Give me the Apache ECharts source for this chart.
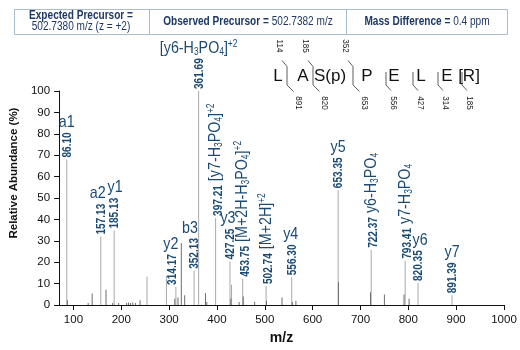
<!DOCTYPE html>
<html>
<head>
<meta charset="utf-8">
<script src="https://cdn.jsdelivr.net/npm/echarts@6/dist/echarts.min.js"></script>
<style>
html, body { margin: 0; padding: 0; background: #fff; }
#chart { width: 520px; height: 350px; }
</style>
</head>
<body>
<div id="chart"></div>
<script>
var FONT = '"Liberation Sans", Arial, sans-serif';
var BLUE = '#1a4a74';
var NAVY = '#1d3866';
var LINE_BOX = '#a9bdcd';
var SQ = 0.84; // horizontal squeeze to mimic the condensed face

// axis ticks
var xTicks = [100, 200, 300, 400, 500, 600, 700, 800, 900, 1000];

// tall peaks (light grey)
var peakMz = [86.10, 157.13, 185.13, 253.8, 294.4, 314.17, 352.13, 361.69, 397.21, 427.25, 430.5, 453.75, 502.74, 556.30, 653.35, 722.37, 793.41, 820.35, 891.39];
var peakInt = [68, 32, 34.8, 13.3, 13.6, 8.5, 16, 100, 40.7, 20.4, 9.5, 12.3, 8.9, 13, 53.7, 25.8, 20.7, 10.3, 4.6];

// small peaks (dark grey)
var minorMz = [87.4, 130.8, 139.1, 168.1, 182.0, 194.4, 211.0, 215.0, 219.0, 224.0, 229.6, 239.3, 311.8, 318.6, 325.5, 332.5, 376.0, 378.7, 429.0, 446.4, 455.0, 478.7, 503.5, 536.0, 557.5, 565.0, 654.0, 721.0, 750.0, 791.0, 801.6];
var minorInt = [2.3, 1.0, 5.4, 7.2, 1.0, 1.0, 1.0, 1.2, 1.0, 1.2, 1.0, 2.3, 3.0, 3.5, 29, 4.6, 5.7, 1.5, 3, 1.5, 4, 1.5, 2, 3.5, 1.5, 2, 10.7, 6, 5, 5, 3];

// annotated peaks
var labMz = [86.10, 157.13, 185.13, 314.17, 352.13, 361.69, 397.21, 427.25, 453.75, 502.74, 556.30, 653.35, 722.37, 793.41, 820.35, 891.39];
var ionName = ['a1', 'a2', 'y1', 'y2', 'b3', '[y6-H3PO4]+2', '[y7-H3PO4]+2', 'y3', '[M+2H-H3PO4]+2', '[M+2H]+2', 'y4', 'y5', 'y6-H3PO4', 'y7-H3PO4', 'y6', 'y7'];
var ionInline = [0, 0, 0, 0, 0, 0, 1, 0, 1, 1, 0, 0, 1, 1, 0, 0];
var nameDx = [0, -3, 1, -5, -4, 0, 0, -2, 0, 0, -1, 0, 0, 0, 2, 0];
var numDx = [0, 0, 0, -4, 0, 0, 0, 0, 0, 0, 0, 0, 0, 0, 0, 0];

// peptide sequence with b / y fragment numbers
var residues = ['L', 'A', 'S(p)', 'P', 'E', 'L', 'E', '[R]'];
var bIons = ['114', '185', '352', '', '', '', ''];
var yIons = ['891', '820', '653', '556', '427', '314', '185'];
var residueX = [278, 303, 330, 367, 394, 421, 447, 469];
var cutX = [287, 313, 353, 386, 413, 438, 462];

var myChart = echarts.init(document.getElementById('chart'));

var ctx = document.createElement('canvas').getContext('2d');
ctx.font = 'bold 12px ' + FONT;
function numWidth(s) { return ctx.measureText(s).width; }

// H3PO4 -> subscripts, +2 -> superscript
function richName(s) {
	return s.replace('H3', 'H{sb|3}').replace('O4', 'O{sb|4}').replace(/\+2$/, '{sp|+2}');
}

var richStyles = {
	n: { fontSize: 12, fontWeight: 'bold', fontFamily: FONT, fill: BLUE, lineHeight: 14, verticalAlign: 'bottom' },
	sb: { fontSize: 10, fontFamily: FONT, fill: BLUE, lineHeight: 10, verticalAlign: 'bottom' },
	sp: { fontSize: 10, fontFamily: FONT, fill: BLUE, lineHeight: 10, verticalAlign: 'top' }
};

function peakHeight(m) { return peakInt[peakMz.indexOf(m)]; }

function renderLabel(params, api) {
	var i = api.value(2);
	var p = api.coord([api.value(0), api.value(1)]);
	var txt = labMz[i].toFixed(2);
	var y = p[1] - 2;
	var kids = [{
		type: 'text', x: p[0] + numDx[i], y: y, rotation: Math.PI / 2, scaleX: SQ,
		style: {
			text: ionInline[i] ? '{n|' + txt + '} ' + richName(ionName[i]) : '{n|' + txt + '}',
			fontSize: 17, fontFamily: FONT, fill: BLUE, lineHeight: 18,
			align: 'left', verticalAlign: 'middle', rich: richStyles
		}
	}];
	if (!ionInline[i]) {
		kids.push({
			type: 'text', x: p[0] + nameDx[i], y: y - numWidth(txt) * SQ - 1, scaleX: SQ,
			style: {
				text: richName(ionName[i]), fontSize: 17, fontFamily: FONT, fill: BLUE, lineHeight: 18,
				align: 'center', verticalAlign: 'bottom', rich: richStyles
			}
		});
	}
	return { type: 'group', children: kids };
}

var bold = { fontWeight: 'bold', fontSize: 12, fontFamily: FONT, fill: NAVY };
var graphics = [
	{ type: 'rect', shape: { x: 14.5, y: 9.5, width: 493, height: 25 }, style: { fill: '#fff', stroke: LINE_BOX, lineWidth: 1 } },
	{ type: 'line', shape: { x1: 149.5, y1: 9.5, x2: 149.5, y2: 34.5 }, style: { stroke: LINE_BOX } },
	{ type: 'line', shape: { x1: 346.5, y1: 9.5, x2: 346.5, y2: 34.5 }, style: { stroke: LINE_BOX } },
	{ type: 'text', x: 81, y: 16, scaleX: SQ, style: { text: 'Expected Precursor =', fontSize: 12, fontWeight: 'bold', fontFamily: FONT, fill: NAVY, align: 'center', verticalAlign: 'middle' } },
	{ type: 'text', x: 81, y: 27, scaleX: SQ, style: { text: '502.7380 m/z (z = +2)', fontSize: 12, fontFamily: FONT, fill: NAVY, align: 'center', verticalAlign: 'middle' } },
	{ type: 'text', x: 248, y: 22, scaleX: SQ, style: { text: '{b|Observed Precursor =} 502.7382 m/z', fontSize: 12, fontFamily: FONT, fill: NAVY, align: 'center', verticalAlign: 'middle', rich: { b: bold } } },
	{ type: 'text', x: 427, y: 22, scaleX: SQ, style: { text: '{b|Mass Difference =} 0.4 ppm', fontSize: 12, fontFamily: FONT, fill: NAVY, align: 'center', verticalAlign: 'middle', rich: { b: bold } } }
];
residues.forEach(function(r, i) {
	graphics.push({ type: 'text', x: residueX[i], y: 76, style: { text: r, fontSize: 17, fontFamily: FONT, fill: '#111', align: 'center', verticalAlign: 'middle' } });
});
cutX.forEach(function(x, i) {
	var hasB = bIons[i] !== '';
	var pts = [];
	if (hasB) pts.push([x - 5, 60.5]);
	pts.push([x, hasB ? 66.5 : 72]);
	pts.push([x, 85]);
	pts.push([x + (i < 3 ? 6.5 : 5), i < 3 ? 91.5 : 90.5]);
	graphics.push({ type: 'polyline', shape: { points: pts }, style: { stroke: '#333', lineWidth: 0.8, fill: null } });
	if (hasB) {
		graphics.push({ type: 'text', x: x - 8, y: 46, rotation: -Math.PI / 2, scaleX: 0.9, style: { text: bIons[i], fontSize: 9, fontFamily: FONT, fill: '#222', align: 'center', verticalAlign: 'middle' } });
	}
	graphics.push({ type: 'text', x: x + (i < 3 ? 11.5 : 7.5), y: 103, rotation: -Math.PI / 2, scaleX: 0.9, style: { text: yIons[i], fontSize: 9, fontFamily: FONT, fill: '#222', align: 'center', verticalAlign: 'middle' } });
});

var option = {
	animation: false,
	grid: { left: 55, right: 16, top: 91, bottom: 42 },
	xAxis: {
		type: 'value', min: 70, max: 1000,
		name: 'm/z', nameLocation: 'middle', nameGap: 25,
		nameTextStyle: { fontSize: 14, fontWeight: 'bold', fontFamily: FONT, color: '#111' },
		axisLine: { show: true, lineStyle: { color: '#111', width: 1 } },
		axisTick: { show: true, length: 5, customValues: xTicks, lineStyle: { color: '#111' } },
		axisLabel: { customValues: xTicks, fontSize: 11.5, fontFamily: FONT, color: '#111', margin: 9, formatter: function(v) { return String(v); } },
		splitLine: { show: false }
	},
	yAxis: {
		type: 'value', min: 0, max: 100, interval: 10,
		name: 'Relative Abundance (%)', nameLocation: 'middle', nameGap: 32,
		nameTextStyle: { fontSize: 11.5, fontWeight: 'bold', fontFamily: FONT, color: '#111', padding: [0, 0, 0, 50] },
		axisLine: { show: true, lineStyle: { color: '#111', width: 1 } },
		axisTick: { show: true, length: 5, lineStyle: { color: '#111' } },
		axisLabel: { fontSize: 11.5, fontFamily: FONT, color: '#111', margin: 9 },
		splitLine: { show: false }
	},
	graphic: graphics,
	series: [
		{
			type: 'bar', barWidth: 1, barGap: '-100%',
			itemStyle: { color: '#a8a8a8' },
			data: peakMz.map(function(m, i) { return [m, peakInt[i]]; })
		},
		{
			type: 'bar', barWidth: 1, barGap: '-100%',
			itemStyle: { color: '#6e6e6e' },
			data: minorMz.map(function(m, i) { return [m, minorInt[i]]; })
		},
		{
			type: 'custom', clip: false,
			renderItem: renderLabel,
			data: labMz.map(function(m, i) { return [m, peakHeight(m), i]; })
		}
	]
};

myChart.setOption(option);
</script>
</body>
</html>
